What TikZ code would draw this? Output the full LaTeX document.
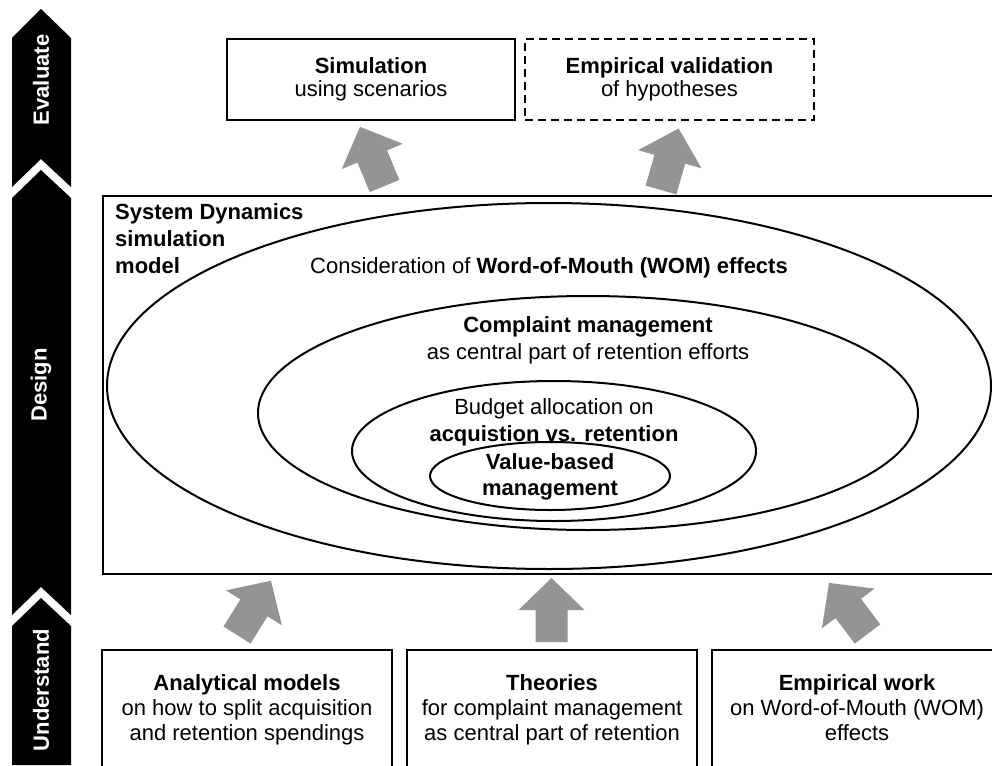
\documentclass[tikz,border=0pt]{standalone}
\usepackage{fontspec}
\setmainfont{Liberation Sans}
\usetikzlibrary{shapes.geometric}

\begin{document}
\begin{tikzpicture}[x=1pt,y=-1pt,
  every node/.style={inner sep=0pt, font=\fontsize{22}{23}\selectfont},
  frame/.style={draw, line width=2pt},
  dashedframe/.style={frame, dash pattern=on 8pt off 5pt},
  ring/.style={draw, line width=2pt, ellipse, inner sep=0pt},
  stage/.style={fill=black},
  stagelabel/.style={text=white, font=\fontsize{22}{23}\selectfont\bfseries, rotate=90},
  blockarrow/.style={fill=black!42},
  twoline/.style={align=center, font=\fontsize{22}{27}\selectfont},
  threeline/.style={align=center, font=\fontsize{22}{25}\selectfont},
]
\useasboundingbox (0,0) rectangle (992,765);
\clip (0,0) rectangle (992,765);

% phase bar on the left
\fill[stage] (12,38) -- (41,9) -- (71,38) -- (71,187) -- (41,159) -- (12,187) -- cycle;
\fill[stage] (12,198) -- (41,170) -- (71,198) -- (71,615) -- (41,587) -- (12,615) -- cycle;
\fill[stage] (12,626) -- (41,598) -- (71,626) -- (71,765) -- (12,765) -- cycle;
\node[stagelabel] (evaluate) at (41,80) {Evaluate};
\node[stagelabel] (design) at (41,385) {Design};
\node[stagelabel] (understand) at (41,690) {Understand};

% evaluation boxes
\node[frame, minimum width=288, minimum height=81, align=center] (sim) at (371,79.5)
  {\textbf{Simulation}\\using scenarios};
\node[dashedframe, minimum width=289, minimum height=81, align=center] (valid) at (669.5,79.5)
  {\textbf{Empirical validation}\\of hypotheses};

% simulation model frame with nested scopes
\node[frame, anchor=north west, minimum width=908, minimum height=378] (model) at (102,195) {};
\node[anchor=north west, align=left, font=\fontsize{22}{27}\selectfont\bfseries] (modeltext) at (115,203)
  {System Dynamics\\simulation\\model};

\node[ring, minimum width=884, minimum height=366] (wom) at (549,386) {};
\node[ring, minimum width=660, minimum height=234] (complaint) at (588,413) {};
\node[ring, minimum width=404, minimum height=140] (budget) at (554,451) {};
\node[ring, minimum width=240, minimum height=68] (value) at (550,476) {};

\node (womtext) at (549,268) {Consideration of \textbf{Word-of-Mouth (WOM) effects}};
\node[twoline] (complainttext) at (588,340)
  {\textbf{Complaint management}\\as central part of retention efforts};
\node[twoline] (budgettext) at (554,422)
  {Budget allocation on\\\textbf{acquistion vs. retention}};
\node[twoline, font=\fontsize{22}{26}\selectfont\bfseries] (valuetext) at (550,477)
  {Value-based\\management};

% foundation boxes
\node[frame, threeline, minimum width=290, minimum height=120] (analytic) at (247,710)
  {\textbf{Analytical models}\\on how to split acquisition\\and retention spendings};
\node[frame, threeline, minimum width=290, minimum height=120] (theories) at (552,710)
  {\textbf{Theories}\\for complaint management\\as central part of retention};
\node[frame, threeline, minimum width=290, minimum height=120] (empirical) at (857,710)
  {\textbf{Empirical work}\\on Word-of-Mouth (WOM)\\effects\vphantom{g}};

% grey block arrows
\fill[blockarrow, shift={(384.5,186)}, rotate=22.5]
  (-16,0) -- (-16,-32) -- (-33,-32) -- (0,-64) -- (33,-32) -- (16,-32) -- (16,0) -- cycle;
\fill[blockarrow, shift={(661,190)}, rotate=-16]
  (-16,0) -- (-16,-32) -- (-33,-32) -- (0,-64) -- (33,-32) -- (16,-32) -- (16,0) -- cycle;
\fill[blockarrow, shift={(237,635)}, rotate=-32]
  (-16,0) -- (-16,-32) -- (-33,-32) -- (0,-64) -- (33,-32) -- (16,-32) -- (16,0) -- cycle;
\fill[blockarrow, shift={(551.5,642)}]
  (-16,0) -- (-16,-32) -- (-33,-32) -- (0,-64) -- (33,-32) -- (16,-32) -- (16,0) -- cycle;
\fill[blockarrow, shift={(867.5,634)}, rotate=37]
  (-16,0) -- (-16,-32) -- (-33,-32) -- (0,-64) -- (33,-32) -- (16,-32) -- (16,0) -- cycle;
\end{tikzpicture}
\end{document}
